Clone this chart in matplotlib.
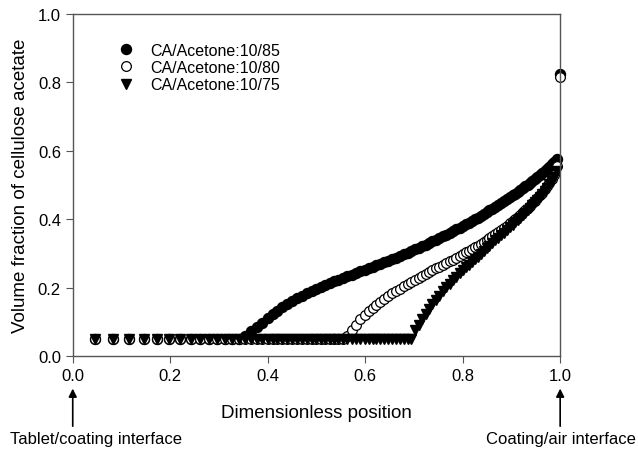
import matplotlib
matplotlib.use('Agg')
import matplotlib.pyplot as plt

plt.rcParams['font.family'] = ['Liberation Sans', 'DejaVu Sans']

# dimensionless position (shared grid, finer towards the coating/air side)
pos = [0.045, 0.082, 0.116, 0.146, 0.173, 0.198, 0.221, 0.242, 0.261, 0.279,
       0.296, 0.312, 0.327, 0.341, 0.354, 0.366, 0.378, 0.389, 0.400, 0.410,
       0.420, 0.430, 0.440, 0.450, 0.460, 0.470, 0.480, 0.490, 0.500, 0.509,
       0.518, 0.527, 0.536, 0.545, 0.554, 0.563, 0.572, 0.581, 0.590, 0.599,
       0.607, 0.615, 0.623, 0.631, 0.639, 0.647, 0.655, 0.663, 0.671, 0.679,
       0.687, 0.695, 0.703, 0.710, 0.717, 0.724, 0.731, 0.738, 0.745, 0.752,
       0.759, 0.766, 0.773, 0.780, 0.787, 0.794, 0.801, 0.807, 0.813, 0.819,
       0.825, 0.831, 0.837, 0.843, 0.849, 0.855, 0.861, 0.867, 0.873, 0.879,
       0.885, 0.891, 0.897, 0.903, 0.908, 0.913, 0.918, 0.923, 0.928, 0.933,
       0.938, 0.943, 0.948, 0.953, 0.958, 0.963, 0.968, 0.973, 0.978, 0.983,
       0.988, 0.993, 1.000]

ca_85 = [0.05, 0.05, 0.05, 0.05, 0.05, 0.05, 0.05, 0.05, 0.05, 0.05,
         0.05, 0.05, 0.05, 0.05, 0.058, 0.072, 0.085, 0.097, 0.110, 0.122,
         0.133, 0.143, 0.152, 0.161, 0.169, 0.176, 0.183, 0.190, 0.196, 0.202,
         0.208, 0.213, 0.218, 0.223, 0.228, 0.233, 0.238, 0.243, 0.248, 0.253,
         0.257, 0.261, 0.266, 0.270, 0.275, 0.279, 0.284, 0.288, 0.293, 0.297,
         0.302, 0.307, 0.312, 0.316, 0.321, 0.325, 0.330, 0.335, 0.340, 0.345,
         0.350, 0.355, 0.360, 0.365, 0.370, 0.375, 0.381, 0.385, 0.390, 0.395,
         0.400, 0.405, 0.410, 0.415, 0.420, 0.426, 0.431, 0.437, 0.442, 0.448,
         0.453, 0.459, 0.464, 0.470, 0.475, 0.480, 0.485, 0.490, 0.496, 0.501,
         0.507, 0.512, 0.518, 0.523, 0.529, 0.535, 0.541, 0.547, 0.554, 0.561,
         0.567, 0.575, 0.823]

ca_80 = [0.05, 0.05, 0.05, 0.05, 0.05, 0.05, 0.05, 0.05, 0.05, 0.05,
         0.05, 0.05, 0.05, 0.05, 0.05, 0.05, 0.05, 0.05, 0.05, 0.05,
         0.05, 0.05, 0.05, 0.05, 0.05, 0.05, 0.05, 0.05, 0.05, 0.05,
         0.05, 0.05, 0.05, 0.05, 0.05, 0.060, 0.075, 0.092, 0.107, 0.120,
         0.131, 0.141, 0.150, 0.159, 0.167, 0.175, 0.183, 0.190, 0.197, 0.204,
         0.210, 0.217, 0.223, 0.229, 0.234, 0.240, 0.245, 0.251, 0.256, 0.261,
         0.266, 0.272, 0.277, 0.282, 0.287, 0.292, 0.298, 0.303, 0.308, 0.313,
         0.318, 0.323, 0.329, 0.334, 0.340, 0.345, 0.351, 0.357, 0.363, 0.369,
         0.375, 0.381, 0.388, 0.395, 0.401, 0.407, 0.413, 0.420, 0.426, 0.433,
         0.440, 0.447, 0.454, 0.462, 0.470, 0.478, 0.487, 0.496, 0.506, 0.517,
         0.530, 0.555, 0.816]

ca_75 = [0.05, 0.05, 0.05, 0.05, 0.05, 0.05, 0.05, 0.05, 0.05, 0.05,
         0.05, 0.05, 0.05, 0.05, 0.05, 0.05, 0.05, 0.05, 0.05, 0.05,
         0.05, 0.05, 0.05, 0.05, 0.05, 0.05, 0.05, 0.05, 0.05, 0.05,
         0.05, 0.05, 0.05, 0.05, 0.05, 0.05, 0.05, 0.05, 0.05, 0.05,
         0.05, 0.05, 0.05, 0.05, 0.05, 0.05, 0.05, 0.05, 0.05, 0.05,
         0.05, 0.05, 0.075, 0.092, 0.108, 0.124, 0.138, 0.152, 0.165, 0.177,
         0.190, 0.201, 0.212, 0.222, 0.232, 0.242, 0.251, 0.259, 0.267, 0.275,
         0.283, 0.291, 0.299, 0.307, 0.315, 0.323, 0.331, 0.338, 0.346, 0.354,
         0.361, 0.369, 0.377, 0.384, 0.391, 0.398, 0.405, 0.412, 0.419, 0.426,
         0.434, 0.441, 0.449, 0.457, 0.466, 0.474, 0.483, 0.492, 0.502, 0.512,
         0.524, 0.540]

labels = ['CA/Acetone:10/85', 'CA/Acetone:10/80', 'CA/Acetone:10/75']

fig = plt.figure(figsize=(6.38, 4.52), dpi=100)
ax = fig.add_axes([0.114, 0.210, 0.764, 0.757])

ax.plot(pos, ca_85, ls='none', marker='o', ms=7.2, mfc='black', mec='black',
        clip_on=False, label=labels[0])
ax.plot(pos, ca_80, ls='none', marker='o', ms=7.0, mfc='white', mec='black',
        mew=0.9, clip_on=False, label=labels[1])
ax.plot(pos[:len(ca_75)], ca_75, ls='none', marker='v', ms=7.0, mfc='black',
        mec='black', clip_on=False, label=labels[2])

ax.set_xlim(0, 1)
ax.set_ylim(0, 1)
ax.set_xticks([0, 0.2, 0.4, 0.6, 0.8, 1.0])
ax.set_yticks([0, 0.2, 0.4, 0.6, 0.8, 1.0])
ax.xaxis.set_major_formatter(matplotlib.ticker.FormatStrFormatter('%.1f'))
ax.yaxis.set_major_formatter(matplotlib.ticker.FormatStrFormatter('%.1f'))
ax.tick_params(direction='out', length=5, width=0.8, labelsize=12,
               color='#555555', top=False, right=False)
for s in ax.spines.values():
    s.set_color('#555555')
    s.set_linewidth(1.0)

ax.set_xlabel('Dimensionless position', fontsize=13.5, labelpad=15)
ax.set_ylabel('Volume fraction of cellulose acetate', fontsize=13.5, labelpad=6)

ax.legend(loc='upper left', bbox_to_anchor=(0.08, 0.935), frameon=False,
          fontsize=11.5, handlelength=1.0, handletextpad=1.0, labelspacing=0.15,
          borderaxespad=0)

# interface arrows below the axis
for xa in (0.0, 1.0):
    ax.annotate('', xy=(xa, -0.095), xytext=(xa, -0.205), xycoords='axes fraction',
                textcoords='axes fraction', annotation_clip=False,
                arrowprops=dict(arrowstyle='-|>', color='black', lw=1.2,
                                mutation_scale=12, shrinkA=0, shrinkB=0))
fig.text(0.016, 0.027, 'Tablet/coating interface', fontsize=12, va='center', ha='left')
fig.text(0.997, 0.027, 'Coating/air interface', fontsize=12, va='center', ha='right')

fig.savefig('out.png', dpi=100)
